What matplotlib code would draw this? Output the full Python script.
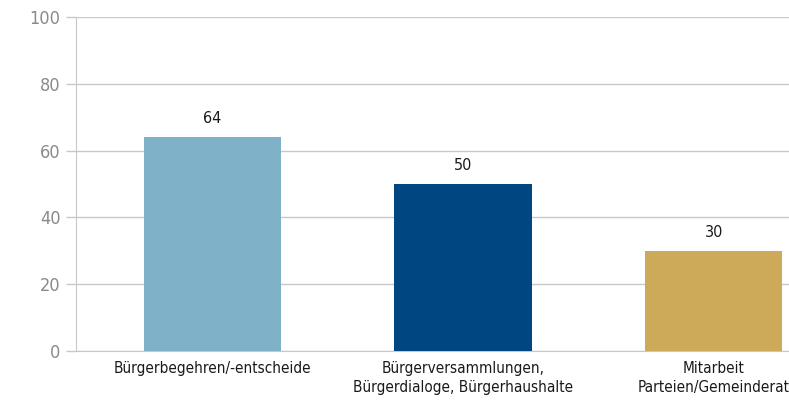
import matplotlib.pyplot as plt

# Data
categories = ['Bürgerbegehren/-entscheide',
              'Bürgerversammlungen,\nBürgerdialoge, Bürgerhaushalte',
              'Mitarbeit\nParteien/Gemeinderat']
values = [64, 50, 30]
colors = ['#7fb1c8', '#004680', '#cdaa5a']
yticks = [0, 20, 40, 60, 80, 100]

plt.rcParams['font.family'] = ['DejaVu Sans']
plt.rcParams['font.stretch'] = 'condensed'

fig = plt.figure(figsize=(7.89, 4.08), dpi=100)
ax = fig.add_axes([76 / 789, 57 / 408, 1 - 76 / 789, 334 / 408])

x = list(range(len(categories)))
bars = ax.bar(x, values, width=0.546, color=colors, zorder=3)

for b, v in zip(bars, values):
    ax.annotate(str(v), (b.get_x() + b.get_width() / 2, v),
                xytext=(0, 8), textcoords='offset points',
                ha='center', va='bottom', fontsize=11.5, color='#1a1a1a')

ax.set_xlim(-0.542, 2.299)
ax.set_ylim(0, 100)
ax.set_yticks(yticks)
ax.set_yticklabels([str(t) for t in yticks], fontsize=13, color='#8a8a8a')
ax.set_xticks(x)
ax.set_xticklabels(categories, fontsize=11, color='#1a1a1a', linespacing=1.35)

ax.yaxis.grid(True, color='#c6c8ca', linewidth=1, zorder=0)
ax.tick_params(axis='y', length=7, color='#c6c8ca', width=1, pad=4)
ax.tick_params(axis='x', length=0, pad=7)

for s in ['top', 'right']:
    ax.spines[s].set_visible(False)
ax.spines['left'].set_color('#c6c8ca')
ax.spines['bottom'].set_color('#c6c8ca')

fig.savefig('out.png', dpi=100)
